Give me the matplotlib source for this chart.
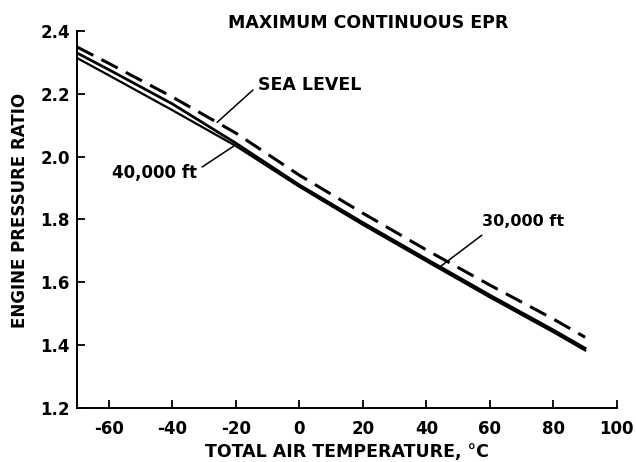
import numpy as np
import matplotlib
matplotlib.use("Agg")
import matplotlib.pyplot as plt

plt.rcParams['font.family'] = ['DejaVu Sans']
plt.rcParams['axes.unicode_minus'] = False

# Data
temps = [-70, -60, -40, -20, 0, 20, 40, 60, 80, 90]
sea_level = [2.349, 2.297, 2.190, 2.075, 1.941, 1.820, 1.703, 1.591, 1.483, 1.425]
alt_30000 = [2.330, 2.277, 2.168, 2.043, 1.910, 1.790, 1.674, 1.559, 1.448, 1.390]
alt_40000 = [2.314, 2.259, 2.148, 2.034, 1.904, 1.783, 1.667, 1.552, 1.441, 1.383]
x_ticks = [-60, -40, -20, 0, 20, 40, 60, 80, 100]
y_ticks = [1.2, 1.4, 1.6, 1.8, 2.0, 2.2, 2.4]

fig = plt.figure(figsize=(6.36, 4.62), dpi=100)
ax = fig.add_axes([0.121, 0.117, 0.849, 0.816])

ax.plot(temps, sea_level, color='black', lw=2.2, dashes=(6, 3), solid_capstyle='butt')
ax.plot(temps, alt_30000, color='black', lw=2.0)
ax.plot(temps, alt_40000, color='black', lw=1.6)

ax.set_xlim(-70, 100)
ax.set_ylim(1.2, 2.4)
ax.set_xticks(x_ticks)
ax.set_yticks(y_ticks)
ax.set_yticklabels([f"{v:.1f}" for v in y_ticks])
ax.tick_params(direction='in', length=6, width=1.3, labelsize=12)
ax.tick_params(axis='x', pad=9)
ax.tick_params(axis='y', pad=5)
for lab in ax.get_xticklabels() + ax.get_yticklabels():
    lab.set_fontweight('bold')

for s in ['top', 'right']:
    ax.spines[s].set_visible(False)
for s in ['left', 'bottom']:
    ax.spines[s].set_linewidth(1.4)

ax.set_xlabel('TOTAL AIR TEMPERATURE, °C', fontsize=12.5, fontweight='bold', labelpad=3)
ax.set_ylabel('ENGINE PRESSURE RATIO', fontsize=12, fontweight='bold')
ax.yaxis.set_label_coords(-0.088, 0.525)

fig.text(368/636, 1 - 23/462, 'MAXIMUM CONTINUOUS EPR', ha='center', va='center',
         fontsize=12.5, fontweight='bold')

lk = dict(arrowstyle='-', color='black', lw=1.1, shrinkA=0, shrinkB=0)

# SEA LEVEL
t = -25.9
ax.annotate('', xy=(t, np.interp(t, temps, sea_level)), xytext=(-14.6, 2.212), arrowprops=lk)
ax.text(-13.0, 2.228, 'SEA LEVEL', ha='left', va='center', fontsize=12.5, fontweight='bold')

# 40,000 ft
t = -20.3
ax.annotate('', xy=(t, np.interp(t, temps, alt_40000)), xytext=(-30.6, 1.967), arrowprops=lk)
ax.text(-32.2, 1.948, '40,000 ft', ha='right', va='center', fontsize=12, fontweight='bold')

# 30,000 ft
t = 44.3
ax.annotate('', xy=(t, np.interp(t, temps, alt_30000)), xytext=(57.5, 1.750), arrowprops=lk)
ax.text(57.5, 1.792, '30,000 ft', ha='left', va='center', fontsize=11.5, fontweight='bold')

fig.savefig('out.png', dpi=100)
